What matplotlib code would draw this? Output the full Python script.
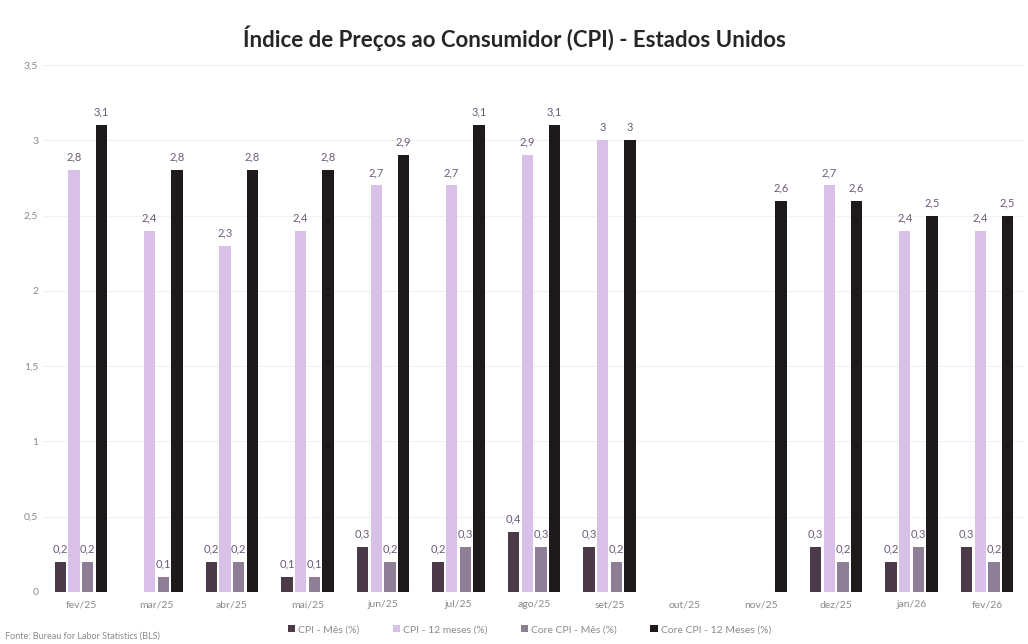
import numpy as np
import matplotlib.pyplot as plt

# CPI Estados Unidos, variação mensal e em 12 meses
meses = ["fev/25", "mar/25", "abr/25", "mai/25", "jun/25", "jul/25", "ago/25",
         "set/25", "out/25", "nov/25", "dez/25", "jan/26", "fev/26"]
cpi_mes = [0.2, -0.1, 0.2, 0.1, 0.3, 0.2, 0.4, 0.3, np.nan, np.nan, 0.3, 0.2, 0.3]
cpi_12m = [2.8, 2.4, 2.3, 2.4, 2.7, 2.7, 2.9, 3.0, np.nan, np.nan, 2.7, 2.4, 2.4]
core_mes = [0.2, 0.1, 0.2, 0.1, 0.2, 0.3, 0.3, 0.2, np.nan, np.nan, 0.2, 0.3, 0.2]
core_12m = [3.1, 2.8, 2.8, 2.8, 2.9, 3.1, 3.1, 3.0, np.nan, 2.6, 2.6, 2.5, 2.5]

series = [
    ("CPI - Mês (%)", cpi_mes, "#4b3a48"),
    ("CPI - 12 meses (%)", cpi_12m, "#d9c0e8"),
    ("Core CPI - Mês (%)", core_mes, "#8e7f96"),
    ("Core CPI - 12 Meses (%)", core_12m, "#1e1a1c"),
]

plt.rcParams['font.family'] = ['Lato', 'DejaVu Sans']

fig = plt.figure(figsize=(10.28, 6.44), dpi=100)
ax = fig.add_axes([0.042, 0.081, 0.955, 0.818])

x = np.arange(len(meses))
width = 0.15
step = 0.181

for i, (nome, vals, cor) in enumerate(series):
    pos = x + (i - 1.5) * step
    v = np.array(vals, dtype=float)
    ax.bar(pos, v, width=width, color=cor, label=nome, zorder=3)
    for xp, val in zip(pos, v):
        if np.isnan(val) or val <= 0:
            continue
        txt = f"{val:g}".replace(".", ",")
        ax.text(xp, val + 0.05, txt, ha="center", va="bottom",
                fontsize=8, color="#6b5a78", zorder=4)

ax.set_xlim(-0.5, len(meses) - 0.5)
ax.set_ylim(0, 3.5)
ax.set_yticks(np.arange(0, 3.51, 0.5))
ax.set_yticklabels([f"{t:g}".replace(".", ",") for t in np.arange(0, 3.51, 0.5)])
ax.set_xticks(x)
ax.set_xticklabels(meses)
ax.tick_params(axis="both", length=0, labelsize=7.5, colors="#8a8a8a")
ax.tick_params(axis="x", pad=6)
ax.grid(axis="y", color="#f1f1f1", linewidth=0.8, zorder=0)
for spine in ax.spines.values():
    spine.set_visible(False)

fig.text(0.5, 0.94, "Índice de Preços ao Consumidor (CPI) - Estados Unidos",
         ha="center", va="center", fontsize=16, fontweight="bold", color="#262626")

fig.legend(loc="center", bbox_to_anchor=(0.515, 0.022), ncol=4, frameon=False,
           fontsize=7.5, labelcolor="#8a8a8a", handlelength=0.7, handleheight=0.7,
           handletextpad=0.3, columnspacing=3.2)

fig.text(0.005, 0.012, "Fonte: Bureau for Labor Statistics (BLS)",
         ha="left", va="center", fontsize=6.5, color="#8a8a8a")

fig.savefig("out.png", dpi=100, facecolor="white")
